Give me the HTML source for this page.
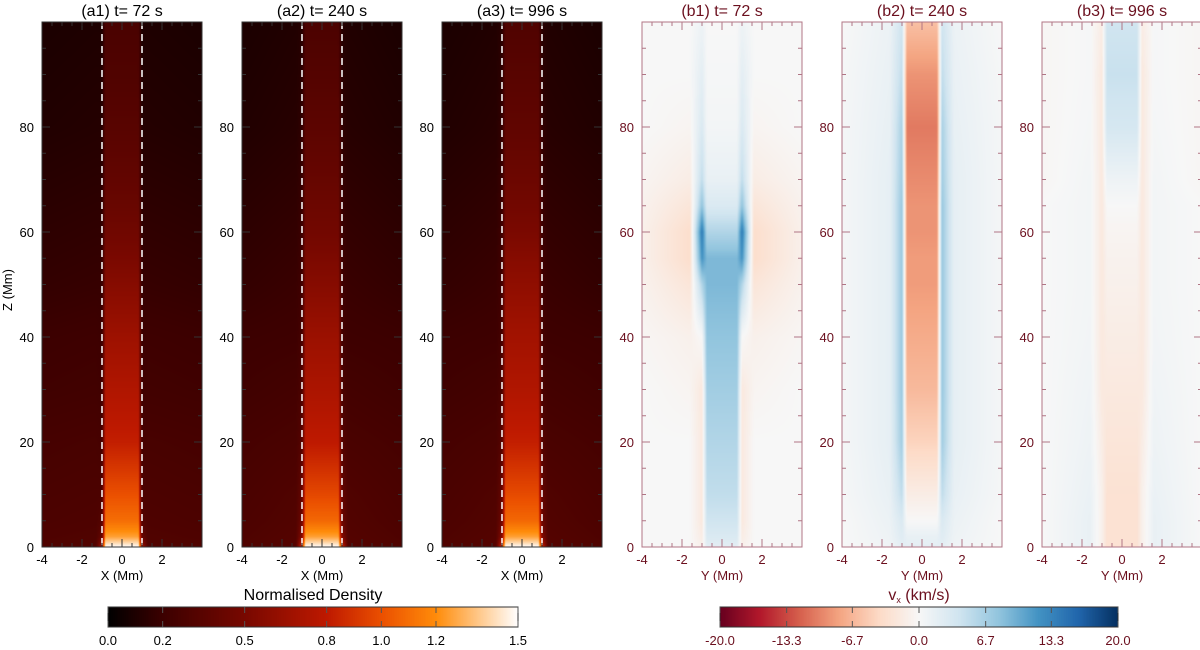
<!DOCTYPE html>
<html><head><meta charset="utf-8"><style>
body{margin:0;background:#fff;width:1200px;height:650px;overflow:hidden;font-family:"Liberation Sans",sans-serif}
#root{position:relative;width:1200px;height:650px}
canvas{position:absolute}
</style></head><body><div id="root">
<svg id="ov" width="1200" height="650" style="position:absolute;left:0;top:0"></svg>
</div>
<script>
// ---- data ----
const zKnots=[0,2,5,10,20,30,40,50,55,60,65,70,80,90,100];
// density panels: core, edge(|x|=1), outer(|x|~1.3), far(|x|=4)
const a1Core=[1.5,1.25,1.1,1.0,0.82,0.74,0.66,0.56,0.51,0.46,0.42,0.39,0.34,0.3,0.27];
const a1Edge=[0.7,0.4,0.32,0.28,0.25,0.22,0.2,0.18,0.17,0.16,0.15,0.14,0.12,0.11,0.1];
const a1Outer=[0.31,0.3,0.29,0.28,0.26,0.23,0.21,0.18,0.17,0.16,0.15,0.14,0.12,0.11,0.1];
const a1Far=[0.3,0.29,0.28,0.27,0.25,0.22,0.2,0.17,0.16,0.15,0.14,0.13,0.11,0.1,0.09];
const a2Core=[1.5,1.25,1.08,0.97,0.8,0.72,0.65,0.56,0.52,0.47,0.44,0.41,0.36,0.32,0.28];
const a2Edge=[0.9,0.55,0.45,0.4,0.33,0.28,0.25,0.22,0.21,0.2,0.19,0.18,0.16,0.14,0.13];
const a2Outer=[0.33,0.32,0.31,0.3,0.27,0.24,0.21,0.19,0.18,0.17,0.16,0.15,0.13,0.12,0.11];
const a2Far=[0.3,0.29,0.28,0.27,0.25,0.22,0.2,0.17,0.16,0.15,0.14,0.13,0.11,0.1,0.09];
const a3Core=[1.5,1.25,1.08,0.98,0.82,0.74,0.68,0.6,0.56,0.51,0.47,0.44,0.38,0.34,0.3];
const a3Edge=[0.9,0.55,0.45,0.4,0.33,0.28,0.25,0.23,0.22,0.21,0.2,0.19,0.17,0.15,0.14];
const a3Outer=[0.33,0.32,0.31,0.3,0.27,0.24,0.21,0.19,0.18,0.17,0.16,0.15,0.13,0.12,0.11];
const a3Far=[0.3,0.29,0.28,0.27,0.25,0.22,0.2,0.17,0.16,0.15,0.14,0.13,0.11,0.1,0.09];
// velocity panels (km/s)
const b1Core=[2,3,4,5,6,7,8,9,9,6,3,1.5,0.5,0.2,0];
const b1Edge=[-1,-1.5,-2,-2,-2,-2,0,6,12,14,8,5,3,2,1];
const b1Outer=[0,0,0,0,0,-0.5,-1,-2.5,-3.5,-3.5,-2.5,-1.5,-0.5,0,0];
const b1Far=[0,0,0,0,0,0,-0.3,-0.8,-1,-1,-0.8,-0.5,0,0,0];
const b2Core=[2,1.5,0,-1.5,-4.5,-6.5,-7.5,-8.5,-8.5,-9,-9,-9.5,-10.5,-9,-6];
const b2Edge=[2,2.5,3,5,7,7.5,7.5,7.5,7.5,7.5,7.5,7,6.5,5,4];
const b2Outer=[0.8,1,1.2,1.5,1.8,1.8,1.8,1.8,1.8,1.8,1.8,1.8,1.6,1.4,1.2];
const b2Far=[0,0,0,0.2,0.3,0.3,0.3,0.3,0.3,0.3,0.3,0.3,0.3,0.2,0];
const b3Core=[-3,-3,-3,-3,-2.5,-2,-1.5,-1,-0.8,-0.5,0,1,3.5,4.5,4];
const b3Edge=[-1,-1,-1,-1,-1.5,-2,-2,-2,-2,-2,-2,-2,-2,-2,-1.5];
const b3Outer=[1.5,1.5,1.5,1.3,1,0.8,0.6,0.5,0.5,0.5,0.5,0.5,0.3,0.2,0.2];
const b3Far=[0,0,0,0,0,0,0,0,0,0,0,-0.3,-0.3,-0.3,-0.3];
const xTicks=[-4,-2,0,2];
const zTicks=[0,20,40,60,80];
const denTicks=[0.0,0.2,0.5,0.8,1.0,1.2,1.5];
const denTickLabels=["0.0","0.2","0.5","0.8","1.0","1.2","1.5"];
const velTicks=[-20,-13.3,-6.7,0,6.7,13.3,20];
const velTickLabels=["-20.0","-13.3","-6.7","0.0","6.7","13.3","20.0"];

const denStops=[[0,[0,0,0]],[0.2,[60,0,0]],[0.5,[120,8,0]],[0.8,[190,25,0]],[1.0,[235,80,0]],[1.2,[255,140,10]],[1.5,[255,255,255]]];
const velStops=[[-20,[103,0,31]],[-16,[178,24,43]],[-12,[214,96,77]],[-8,[244,165,130]],[-4,[253,219,199]],[0,[247,247,247]],[4,[209,229,240]],[8,[146,197,222]],[12,[67,147,195]],[16,[33,102,172]],[20,[5,48,97]]];
function cmap(st,v){if(v<=st[0][0])return st[0][1];for(let i=1;i<st.length;i++){if(v<=st[i][0]){const t=(v-st[i-1][0])/(st[i][0]-st[i-1][0]);return st[i-1][1].map((c,k)=>c+(st[i][1][k]-c)*t);}}return st[st.length-1][1];}
function interp(xs,ys,x){if(x<=xs[0])return ys[0];for(let i=1;i<xs.length;i++){if(x<=xs[i]){const t=(x-xs[i-1])/(xs[i]-xs[i-1]);return ys[i-1]+(ys[i]-ys[i-1])*t;}}return ys[ys.length-1];}
const PW=160,PH=525,PY=22;
const xS=x=>(x+4)/8*PW, zS=z=>PH-z/100*PH;
const svg=document.getElementById('ov'),root=document.getElementById('root');
const NS='http://www.w3.org/2000/svg';
function el(tag,at,par){const e=document.createElementNS(NS,tag);for(const k in at)e.setAttribute(k,at[k]);(par||svg).appendChild(e);return e;}
function txt(x,y,s,size,col,anchor,par){const e=el('text',{x:x,y:y,'font-size':size,fill:col,'text-anchor':anchor||'middle','font-family':'Liberation Sans, sans-serif'},par);e.textContent=s;return e;}
const panels=[
 {id:'a1',x0:42,title:'(a1) t= 72 s',d:[a1Core,a1Edge,a1Outer,a1Far],vel:false},
 {id:'a2',x0:242,title:'(a2) t= 240 s',d:[a2Core,a2Edge,a2Outer,a2Far],vel:false},
 {id:'a3',x0:442,title:'(a3) t= 996 s',d:[a3Core,a3Edge,a3Outer,a3Far],vel:false},
 {id:'b1',x0:642,title:'(b1) t= 72 s',d:[b1Core,b1Edge,b1Outer,b1Far],vel:true},
 {id:'b2',x0:842,title:'(b2) t= 240 s',d:[b2Core,b2Edge,b2Outer,b2Far],vel:true},
 {id:'b3',x0:1042,title:'(b3) t= 996 s',d:[b3Core,b3Edge,b3Outer,b3Far],vel:true}];
panels.forEach(p=>{
 const cv=document.createElement('canvas');cv.width=PW;cv.height=PH;cv.style.left=p.x0+'px';cv.style.top=PY+'px';
 
 
 root.insertBefore(cv,svg);
 const ctx=cv.getContext('2d'),img=ctx.createImageData(PW,PH);
 const xk=p.vel?[0,0.75,1.0,1.6,4]:[0,0.82,1.0,1.3,4];
 for(let j=0;j<PH;j++){const z=(PH-j-0.5)/PH*100;
  const c=p.d.map(a=>interp(zKnots,a,z));
  const prof=[c[0],c[0],c[1],c[2],c[3]];
  for(let i=0;i<PW;i++){const x=(i+0.5)/PW*8-4;const v=interp(xk,prof,Math.abs(x));
   const col=cmap(p.vel?velStops:denStops,v);const o=(j*PW+i)*4;img.data[o]=col[0];img.data[o+1]=col[1];img.data[o+2]=col[2];img.data[o+3]=255;}}
 ctx.putImageData(img,0,0);
 const g=el('g',{transform:`translate(${p.x0},${PY})`});
 
 
 const ac=p.vel?'#b07585':'#333', lc=p.vel?'#6b0f1e':'#000';
 el('rect',{x:0,y:0,width:PW,height:PH,fill:'none',stroke:ac,'stroke-width':1},g);
 if(!p.vel){[-1,1].forEach(v=>{const l=el('line',{x1:xS(v),x2:xS(v),y1:0,y2:PH,stroke:'#fff','stroke-width':1.5,'stroke-dasharray':'7,5'},g);});}
 for(let v=-4;v<=4;v+=0.5){const x=xS(v),L=(v%2===0)?8:4;el('line',{x1:x,x2:x,y1:PH,y2:PH-L,stroke:ac},g);el('line',{x1:x,x2:x,y1:0,y2:L,stroke:ac},g);}
 for(let z=0;z<=100;z+=5){const y=zS(z),L=(z%20===0)?8:4;el('line',{x1:0,x2:L,y1:y,y2:y,stroke:ac},g);el('line',{x1:PW,x2:PW-L,y1:y,y2:y,stroke:ac},g);}
 xTicks.forEach(v=>txt(xS(v),PH+17,String(v),13,lc,'middle',g));
 zTicks.forEach(v=>txt(-8,zS(v)+5,String(v),13,lc,'end',g));
 const xl=txt(PW/2,PH+33,p.vel?'Y (Mm)':'X (Mm)',13,lc,'middle',g);
 const tt=txt(PW/2,-6,p.title,16,p.vel?'#6b0f1e':'#000','middle',g);
});
const yl=txt(0,0,'Z (Mm)',13,'#000');yl.setAttribute('transform','translate(12,290) rotate(-90)');


function cbar(x0,w,ticks,labels,stops,lo,hi,title,col,name){
 const cv=document.createElement('canvas');cv.width=w;cv.height=20;cv.style.left=x0+'px';cv.style.top='607px';
 
 
 root.insertBefore(cv,svg);const ctx=cv.getContext('2d');
 for(let i=0;i<w;i++){const c=cmap(stops,lo+(hi-lo)*(i+0.5)/w);ctx.fillStyle=`rgb(${c.map(Math.round)})`;ctx.fillRect(i,0,1,20);}
 el('rect',{x:x0,y:607,width:w,height:20,fill:'none',stroke:'#333'});
 ticks.forEach((t,k)=>{const x=x0+(t-lo)/(hi-lo)*w;el('line',{x1:x,x2:x,y1:627,y2:621,stroke:'#555'});el('line',{x1:x,x2:x,y1:607,y2:613,stroke:'#555'});txt(x,645,labels[k],13,col);});
 return txt(x0+w/2,600,title,16,col);
}
cbar(108,410,denTicks,denTickLabels,denStops,0,1.5,'Normalised Density','#000','density-colorbar');
const vt=cbar(720,398,velTicks,velTickLabels,velStops,-20,20,'','#6b0f1e','velocity-colorbar');
vt.innerHTML='v<tspan font-size="9" dy="3">x</tspan><tspan dy="-3"> (km/s)</tspan>';
</script></body></html>
